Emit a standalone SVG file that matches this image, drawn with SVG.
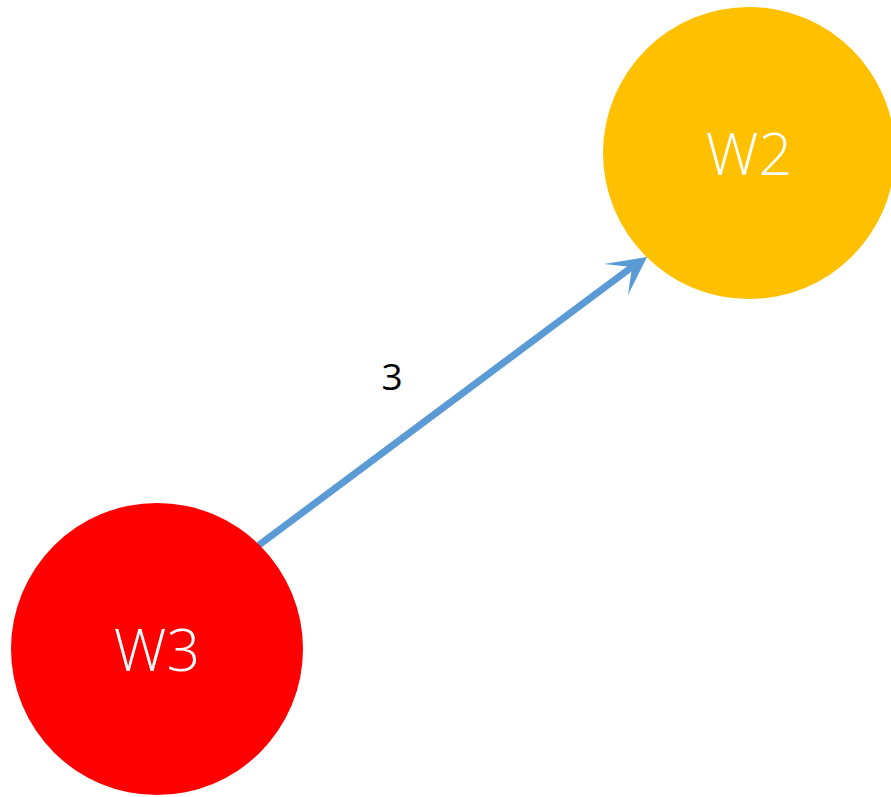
<svg xmlns="http://www.w3.org/2000/svg" width="891" height="797" viewBox="0 0 891 797">
<style>
.lbl{font-family:"Open Sans","Noto Sans",sans-serif;font-weight:300;fill:#fff;font-size:59px;text-anchor:middle}
.elbl{font-family:"Open Sans","Noto Sans",sans-serif;font-weight:400;fill:#000;font-size:37px;text-anchor:middle}
</style>
<rect width="891" height="797" fill="#fff"/>
<g id="connectors">
<line x1="259" y1="545" x2="636" y2="264" stroke="#5B9BD5" stroke-width="7"/>
<path d="M647,257 L604,264 L632,267 L628,295 Z" fill="#5B9BD5"/>
<text class="elbl" x="392" y="390">3</text>
</g>
<g id="W2">
<circle cx="749" cy="153" r="146" fill="#FFC000"/>
<text class="lbl" x="749" y="175">W2</text>
</g>
<g id="W3">
<circle cx="157" cy="649" r="146" fill="#FF0000"/>
<text class="lbl" x="157" y="671">W3</text>
</g>
</svg>
